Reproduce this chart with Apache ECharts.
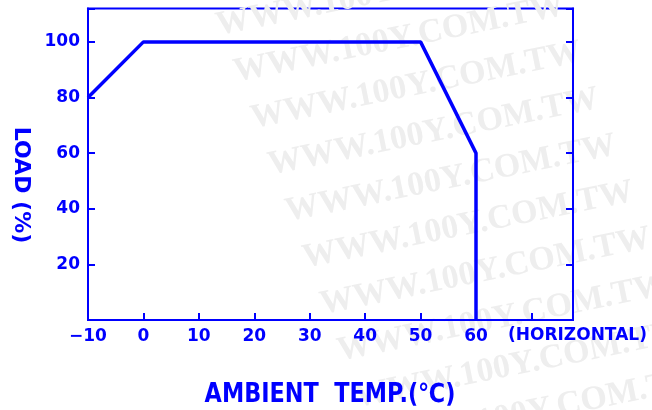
<!DOCTYPE html>
<html>
<head>
<meta charset="utf-8">
<script src="https://cdn.jsdelivr.net/npm/echarts@6/dist/echarts.min.js"></script>
<style>html,body{margin:0;padding:0;background:#fff;}#c{width:652px;height:410px;}</style>
</head>
<body>
<div id="c"></div>
<script>
// Data
var tempX = [-10, 0, 50, 60, 60];
var loadY = [80, 100, 100, 60, 0];
var xTickValues = [-10, 0, 10, 20, 30, 40, 50, 60];
var xTickLabels = ['\u221210', '0', '10', '20', '30', '40', '50', '60'];
var yTickValues = [20, 40, 60, 80, 100];
var yTickLabels = ['20', '40', '60', '80', '100'];
var xName = 'AMBIENT  TEMP.(\u2103)';
var yName = 'LOAD (%)';
var xNote = '(HORIZONTAL)';
var watermark = 'WWW.100Y.COM.TW';

var BLUE = '#0000ff';
var chart = echarts.init(document.getElementById('c'), null, {renderer: 'canvas'});

var seriesData = tempX.map(function (x, i) { return [x, loadY[i]]; });

var graphics = [];
for (var k = -1; k <= 9; k++) {
  graphics.push({
    type: 'text', z: 0, silent: true,
    x: 220 + 17.3 * k, y: 43 + 46.5 * k,
    rotation: 0.2,
    style: {
      text: watermark, fill: '#eeeeee',
      font: 'bold 34px "Liberation Serif"',
      textAlign: 'left', textVerticalAlign: 'bottom'
    }
  });
}
graphics.push({
  type: 'text', z: 10,
  x: 330, y: 395,
  scaleX: 0.86,
  style: {
    text: xName, fill: BLUE,
    font: 'bold 26px "DejaVu Sans"',
    textAlign: 'center', textVerticalAlign: 'middle'
  }
});
graphics.push({
  type: 'text', z: 10,
  x: 21, y: 185,
  rotation: -Math.PI / 2,
  style: {
    text: yName, fill: BLUE,
    font: 'bold 22px "DejaVu Sans"',
    textAlign: 'center', textVerticalAlign: 'middle'
  }
});
graphics.push({
  type: 'text', z: 10,
  x: 508, y: 336,
  style: {
    text: xNote, fill: BLUE,
    font: 'bold 17px "DejaVu Sans"',
    textAlign: 'left', textVerticalAlign: 'middle'
  }
});

function lookup(vals, labels) {
  return function (v) {
    for (var i = 0; i < vals.length; i++) {
      if (Math.abs(vals[i] - v) < 1e-6) return labels[i];
    }
    return '';
  };
}

function axisCommon() {
  return {
    axisLine: {show: true, onZero: false, lineStyle: {color: BLUE, width: 2}},
    axisTick: {show: true, inside: true, length: 7, lineStyle: {color: BLUE, width: 2}},
    splitLine: {show: false}
  };
}

chart.setOption({
  animation: false,
  backgroundColor: '#fff',
  grid: {left: 88, top: 8.5, right: 79, bottom: 90, show: true, borderColor: BLUE, borderWidth: 2, backgroundColor: 'transparent'},
  graphic: graphics,
  xAxis: Object.assign({
    type: 'value', min: -10, max: 77.5, interval: 10,
    axisLabel: {
      color: BLUE, fontFamily: 'DejaVu Sans', fontWeight: 'bold', fontSize: 17, margin: 8,
      formatter: lookup(xTickValues, xTickLabels), showMinLabel: true, showMaxLabel: false
    }
  }, axisCommon()),
  yAxis: [
    Object.assign({
      type: 'value', min: 0, max: 112, interval: 20, position: 'left',
      axisLabel: {
        color: BLUE, fontFamily: 'DejaVu Sans', fontWeight: 'bold', fontSize: 17, margin: 8,
        formatter: lookup(yTickValues, yTickLabels)
      }
    }, axisCommon()),
    Object.assign({
      type: 'value', min: 0, max: 112, interval: 20, position: 'right',
      axisLabel: {show: false}
    }, axisCommon())
  ],
  series: [{
    type: 'line', data: seriesData, symbol: 'none', yAxisIndex: 0,
    lineStyle: {color: BLUE, width: 3.5}, z: 5
  }]
});
</script>
</body>
</html>
